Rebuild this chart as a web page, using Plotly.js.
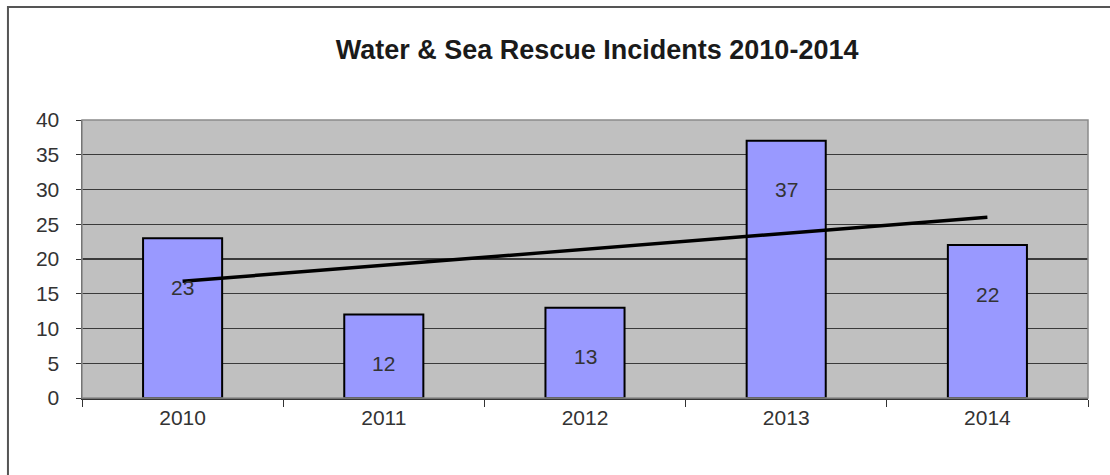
<!DOCTYPE html>
<html>
<head>
<meta charset="utf-8">
<script src="https://cdn.plot.ly/plotly-3.0.1.min.js"></script>
<style>
html, body { margin: 0; padding: 0; background: #ffffff; }
#chart { width: 1110px; height: 475px; }
</style>
</head>
<body>
<div id="chart"></div>
<script>
// ---- data ----
const chartTitle = "Water & Sea Rescue Incidents 2010-2014";
const years = ["2010", "2011", "2012", "2013", "2014"];
const incidents = [23, 12, 13, 37, 22];
const yTicks = [0, 5, 10, 15, 20, 25, 30, 35, 40];

// ---- linear trendline (least squares fit of the series) ----
const n = incidents.length;
const xs = incidents.map((_, i) => i);
const mx = xs.reduce((a, b) => a + b, 0) / n;
const my = incidents.reduce((a, b) => a + b, 0) / n;
let sxy = 0, sxx = 0;
for (let i = 0; i < n; i++) { sxy += (xs[i] - mx) * (incidents[i] - my); sxx += (xs[i] - mx) * (xs[i] - mx); }
const slope = sxy / sxx;
const intercept = my - slope * mx;
const trend = xs.map(x => intercept + slope * x);

const FONT = "Liberation Sans, Arial, sans-serif";

const traces = [
  {
    type: "bar",
    x: years,
    y: incidents,
    marker: { color: "#9999FF", line: { color: "#000000", width: 2 } },
    hoverinfo: "x+y"
  },
  {
    type: "scatter",
    mode: "lines",
    x: years,
    y: trend,
    line: { color: "#000000", width: 3.5 },
    hoverinfo: "skip"
  }
];

const labelAnnotations = years.map((yr, i) => ({
  x: i, y: incidents[i], xref: "x", yref: "y",
  text: String(incidents[i]), showarrow: false,
  yanchor: "middle", yshift: -49,
  font: { family: FONT, size: 21, color: "#333333" }
}));

const layout = {
  width: 1110,
  height: 475,
  margin: { l: 82, r: 22, t: 120, b: 77, pad: 0 },
  paper_bgcolor: "#ffffff",
  plot_bgcolor: "#C0C0C0",
  showlegend: false,
  bargap: 0.607,
  title: {
    text: "<b>" + chartTitle.replace("&", "&amp;") + "</b>",
    font: { family: FONT, size: 27, color: "#1a1a1a" },
    xref: "paper", x: 0.512, xanchor: "center",
    yref: "container", y: 0.895, yanchor: "middle"
  },
  xaxis: {
    type: "category",
    categoryorder: "array",
    categoryarray: years,
    range: [-0.5, years.length - 0.5],
    tickson: "boundaries",
    ticks: "outside",
    ticklen: 7,
    tickwidth: 1,
    tickcolor: "#333333",
    tickangle: 0,
    showgrid: false,
    showline: true,
    linecolor: "#333333",
    linewidth: 1.5,
    tickfont: { family: FONT, size: 21, color: "#333333" },
    fixedrange: true
  },
  yaxis: {
    range: [0, 40],
    tickvals: yTicks,
    ticktext: yTicks.map(String),
    ticks: "outside",
    ticklen: 5,
    tickwidth: 1,
    tickcolor: "#333333",
    ticklabelstandoff: 12,
    showgrid: true,
    gridcolor: "#3a3a3a",
    gridwidth: 1.2,
    zeroline: false,
    showline: true,
    linecolor: "#333333",
    linewidth: 1.5,
    tickfont: { family: FONT, size: 21, color: "#333333" },
    fixedrange: true
  },
  shapes: [
    { type: "rect", xref: "paper", yref: "paper", x0: 0, x1: 1, y0: 0, y1: 1,
      line: { color: "#8a8a8a", width: 1.5 }, layer: "above" },
    { type: "rect", xref: "paper", yref: "paper",
      x0: -0.0736, x1: 1.05, y0: -0.32, y1: 1.4065,
      line: { color: "#555555", width: 2 }, layer: "below" }
  ],
  annotations: labelAnnotations
};

Plotly.newPlot("chart", traces, layout, { staticPlot: true, displayModeBar: false });
</script>
</body>
</html>
